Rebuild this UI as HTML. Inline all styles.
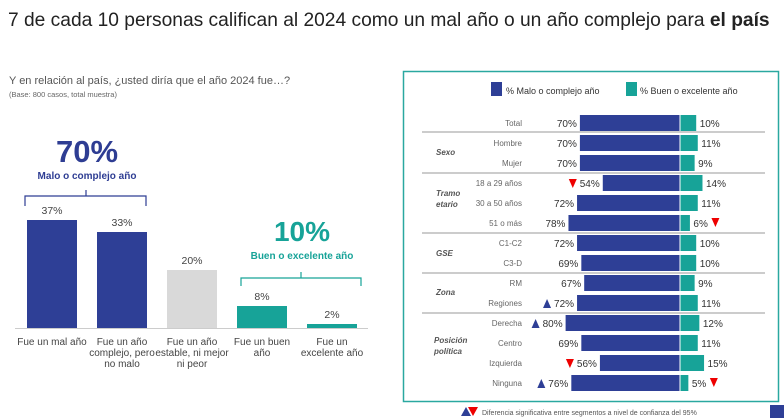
<!DOCTYPE html>
<html><head><meta charset="utf-8"><style>
body{margin:0;width:784px;height:418px;background:#fff;font-family:"Liberation Sans",sans-serif;overflow:hidden;position:relative}
.a{position:absolute;white-space:nowrap}
</style></head><body>
<div class="a" style="left:8px;top:10px;font-size:19.2px;color:#222">7 de cada 10 personas califican al 2024 como un mal año o un año complejo para <b>el país</b></div>
<div class="a" style="left:9px;top:75px;font-size:11px;color:#555">Y en relación al país, ¿usted diría que el año 2024 fue…?</div>
<div class="a" style="left:9px;top:90px;font-size:7.5px;color:#666">(Base: 800 casos, total muestra)</div>
<svg width="784" height="418" style="position:absolute;left:0;top:0" font-family="Liberation Sans, sans-serif">
<text x="87" y="162" font-size="31" font-weight="bold" fill="#2e3d93" text-anchor="middle">70%</text>
<text x="87" y="179" font-size="10" font-weight="bold" fill="#2e3d93" text-anchor="middle">Malo o complejo año</text>
<path d="M25 206 V196 H146 V206 M86 196 V190" stroke="#2e3d93" stroke-width="1.2" fill="none"/>
<text x="302" y="241" font-size="28" font-weight="bold" fill="#17a398" text-anchor="middle">10%</text>
<text x="302" y="259" font-size="10" font-weight="bold" fill="#17a398" text-anchor="middle">Buen o excelente año</text>
<path d="M241 286 V278 H361 V286 M301 278 V272" stroke="#17a398" stroke-width="1.2" fill="none"/>
<line x1="15" y1="328.5" x2="368" y2="328.5" stroke="#ccc"/>
<rect x="27" y="220" width="50" height="108" fill="#2e3f96"/>
<rect x="97" y="232" width="50" height="96" fill="#2e3f96"/>
<rect x="167" y="270" width="50" height="58" fill="#d9d9d9"/>
<rect x="237" y="306" width="50" height="22" fill="#17a398"/>
<rect x="307" y="324" width="50" height="4" fill="#17a398"/>
<g font-size="10.5" fill="#444" text-anchor="middle">
<text x="52" y="214">37%</text><text x="122" y="226">33%</text><text x="192" y="264">20%</text><text x="262" y="300">8%</text><text x="332" y="318">2%</text>
</g>
<g font-size="10" fill="#444" text-anchor="middle">
<text x="52" y="345">Fue un mal año</text>
<text x="122" y="345">Fue un año</text><text x="122" y="356">complejo, pero</text><text x="122" y="367">no malo</text>
<text x="192" y="345">Fue un año</text><text x="192" y="356">estable, ni mejor</text><text x="192" y="367">ni peor</text>
<text x="262" y="345">Fue un buen</text><text x="262" y="356">año</text>
<text x="332" y="345">Fue un</text><text x="332" y="356">excelente año</text>
</g>
<rect x="403.5" y="71.5" width="375" height="330" fill="none" stroke="#2aa8a0" stroke-width="1.5"/>
<rect x="491" y="82" width="11" height="14" fill="#2e3f96"/>
<text x="506" y="94" font-size="9" fill="#333">% Malo o complejo año</text>
<rect x="626" y="82" width="11" height="14" fill="#17a398"/>
<text x="640" y="94" font-size="9" fill="#333">% Buen o excelente año</text>
<g stroke="#777" stroke-width="0.8">
<line x1="422" y1="132" x2="765" y2="132"/><line x1="422" y1="173" x2="765" y2="173"/><line x1="422" y1="233" x2="765" y2="233"/><line x1="422" y1="273" x2="765" y2="273"/><line x1="422" y1="313" x2="765" y2="313"/>
</g>
<g font-size="8" font-weight="bold" font-style="italic" fill="#555">
<text x="436" y="155">Sexo</text><text x="436" y="196">Tramo</text><text x="436" y="207">etario</text><text x="436" y="256">GSE</text><text x="436" y="295">Zona</text><text x="434" y="343">Posición</text><text x="434" y="354">política</text>
</g>
<g id="rows"></g>
<path d="M461 416 L466 407 L471 416Z" fill="#2e3f96"/><path d="M468 407 L478 407 L473 416Z" fill="#e00"/>
<text x="482" y="415" font-size="7" fill="#555">Diferencia significativa entre segmentos a nivel de confianza del 95%</text>
<rect x="770" y="405" width="14" height="13" fill="#2e3f96"/>
</svg>
<script>
var d=[["Total",70,10,0,0],["Hombre",70,11,0,0],["Mujer",70,9,0,0],["18 a 29 años",54,14,-1,0],["30 a 50 años",72,11,0,0],["51 o más",78,6,0,-1],["C1-C2",72,10,0,0],["C3-D",69,10,0,0],["RM",67,9,0,0],["Regiones",72,11,1,0],["Derecha",80,12,1,0],["Centro",69,11,0,0],["Izquierda",56,15,-1,0],["Ninguna",76,5,1,-1]];
var s="";
d.forEach(function(r,i){var y=123+i*20,w=r[1]*1.43,t=r[2]*1.57,x=680-w;
s+='<text x="522" y="'+(y+3)+'" font-size="8" fill="#666" text-anchor="end">'+r[0]+'</text>';
s+='<rect x="'+x+'" y="'+(y-8)+'" width="'+(w-0.5)+'" height="16" fill="#2e3f96"/>';
s+='<rect x="680.5" y="'+(y-8)+'" width="'+t+'" height="16" fill="#17a398"/>';
s+='<text x="'+(x-3)+'" y="'+(y+4)+'" font-size="10" fill="#333" text-anchor="end">'+r[1]+'%</text>';
var tx=680+t+4;s+='<text x="'+tx+'" y="'+(y+4)+'" font-size="10" fill="#333">'+r[2]+'%</text>';
var ax=x-3-22-5;
if(r[3]==1)s+='<path d="M'+(ax-4)+' '+(y+5)+' L'+ax+' '+(y-4)+' L'+(ax+4)+' '+(y+5)+'Z" fill="#2e3f96"/>';
if(r[3]==-1)s+='<path d="M'+(ax-4)+' '+(y-4)+' L'+(ax+4)+' '+(y-4)+' L'+ax+' '+(y+5)+'Z" fill="#e00"/>';
if(r[4]==-1){var bx=tx+22;s+='<path d="M'+(bx-4)+' '+(y-5)+' L'+(bx+4)+' '+(y-5)+' L'+bx+' '+(y+4)+'Z" fill="#e00"/>';}
});
document.getElementById("rows").outerHTML=s;
</script>
</body></html>
